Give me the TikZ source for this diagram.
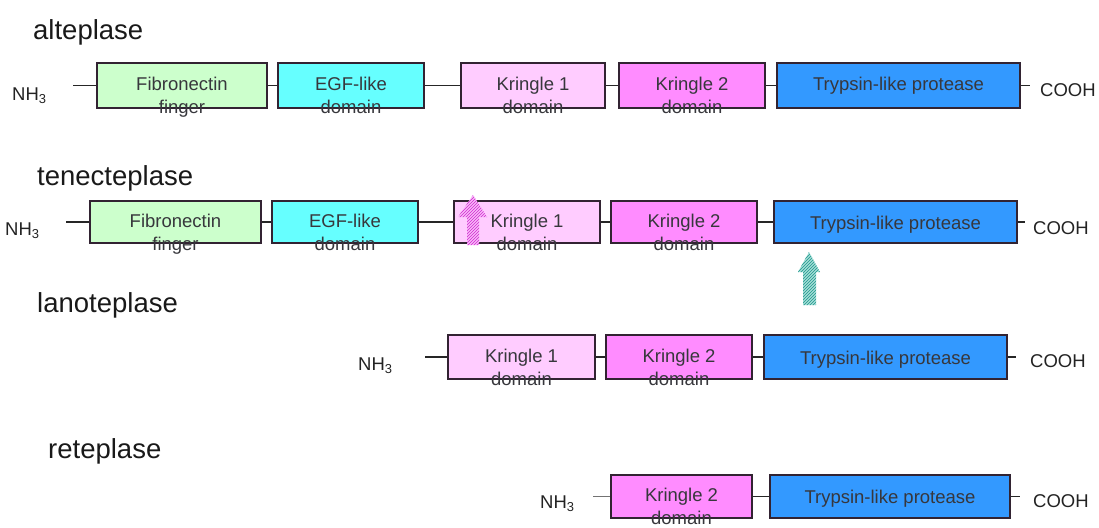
\documentclass[tikz,border=0pt]{standalone}
\usepackage{fontspec}
\setmainfont{Liberation Sans}
\usetikzlibrary{patterns}
\definecolor{fingergreen}{RGB}{204, 255, 204}
\definecolor{egfcyan}{RGB}{102, 255, 255}
\definecolor{kringlepale}{RGB}{255, 204, 255}
\definecolor{kringlepink}{RGB}{255, 140, 255}
\definecolor{proteaseblue}{RGB}{51, 153, 255}
\definecolor{boxline}{RGB}{50, 35, 50}
\definecolor{domgray}{RGB}{55, 55, 60}
\definecolor{endgray}{RGB}{35, 35, 35}
\definecolor{mutpink}{RGB}{210, 40, 210}
\definecolor{mutpinkbg}{RGB}{248, 185, 248}
\definecolor{mutteal}{RGB}{30, 150, 140}
\definecolor{mutteabg}{RGB}{165, 222, 215}

\begin{document}
\begin{tikzpicture}[x=1pt, y=-1pt,
    dombox/.style={draw=boxline, line width=1.6pt, minimum height=#1, inner sep=0pt},
    domtext/.style={anchor=base, align=center, inner sep=0pt, text=domgray,
                    font=\fontsize{18.5}{23}\selectfont},
    title/.style={anchor=base west, inner sep=0pt, text=black!90,
                  font=\fontsize{27.5}{30}\selectfont},
    endtext/.style={anchor=base west, inner sep=0pt, text=endgray,
                    font=\fontsize{18.5}{22}\selectfont},
    link/.style={line width=1.4pt, draw=black!85}]
\useasboundingbox (0,0) rectangle (1099,527);

% alteplase
\node[title] (tal) at (33,40) {alteplase};
\node[endtext] (nal) at (12,100) {NH\textsubscript{3}};
\node[endtext] (cal) at (1040,96) {COOH};
\coordinate (sal) at (73,85.5);
\coordinate (eal) at (1030,85.5);
\node[dombox=45pt, fill=fingergreen,  minimum width=170pt] (fn1)  at (182,85.5)   {};
\node[dombox=45pt, fill=egfcyan,      minimum width=146pt] (egf1) at (351,85.5)   {};
\node[dombox=45pt, fill=kringlepale,  minimum width=144pt] (ka1)  at (533,85.5)   {};
\node[dombox=45pt, fill=kringlepink,  minimum width=146pt] (kb1)  at (692,85.5)   {};
\node[dombox=45pt, fill=proteaseblue, minimum width=243pt] (tp1)  at (898.5,85.5) {};
\node[domtext] (fn1t)  at ([yshift=-28pt]fn1.center)  {Fibronectin\\finger};
\node[domtext] (egf1t) at ([yshift=-28pt]egf1.center) {EGF-like\\domain};
\node[domtext] (ka1t)  at ([yshift=-28pt]ka1.center)  {Kringle 1\\domain};
\node[domtext] (kb1t)  at ([yshift=-28pt]kb1.center)  {Kringle 2\\domain};
\node[domtext] (tp1t)  at ([yshift=-5pt]tp1.center)   {Trypsin-like protease};
\draw[link] (sal) -- (fn1) -- (egf1) -- (ka1) -- (kb1) -- (tp1) -- (eal);

% tenecteplase
\node[title] (tte) at (37,185) {tenecteplase};
\node[endtext] (nte) at (5,235) {NH\textsubscript{3}};
\node[endtext] (cte) at (1033,234) {COOH};
\coordinate (ste) at (66,222);
\coordinate (ete) at (1025,222);
\node[dombox=42pt, fill=fingergreen,  minimum width=171pt] (fn2)  at (175.5,222) {};
\node[dombox=42pt, fill=egfcyan,      minimum width=146pt] (egf2) at (345,222)   {};
\node[dombox=42pt, fill=kringlepale,  minimum width=146pt] (ka2)  at (527,222)   {};
\node[dombox=42pt, fill=kringlepink,  minimum width=146pt] (kb2)  at (684,222)   {};
\node[dombox=42pt, fill=proteaseblue, minimum width=243pt] (tp2)  at (895.5,222) {};
\node[domtext] (fn2t)  at ([yshift=-28pt]fn2.center)  {Fibronectin\\finger};
\node[domtext] (egf2t) at ([yshift=-28pt]egf2.center) {EGF-like\\domain};
\node[domtext] (ka2t)  at ([yshift=-28pt]ka2.center)  {Kringle 1\\domain};
\node[domtext] (kb2t)  at ([yshift=-28pt]kb2.center)  {Kringle 2\\domain};
\node[domtext] (tp2t)  at ([yshift=-7pt]tp2.center)   {Trypsin-like protease};
\draw[link] (ste) -- (fn2) -- (egf2) -- (ka2) -- (kb2) -- (tp2) -- (ete);
% mutation sites
\fill[preaction={fill=mutpinkbg}, pattern=north east lines, pattern color=mutpink]
     (473,195) -- (487,217) -- (479,217) -- (479,245) -- (467,245) -- (467,217) -- (458,217) -- cycle;
\fill[preaction={fill=mutteabg}, pattern=north east lines, pattern color=mutteal]
     (809,252) -- (820,272) -- (816,272) -- (816,305) -- (803,305) -- (803,272) -- (798,272) -- cycle;

% lanoteplase
\node[title] (tla) at (37,312) {lanoteplase};
\node[endtext] (nla) at (358,370) {NH\textsubscript{3}};
\node[endtext] (cla) at (1030,367) {COOH};
\coordinate (sla) at (425,357);
\coordinate (ela) at (1016,357);
\node[dombox=44pt, fill=kringlepale,  minimum width=147pt] (ka3)  at (521.5,357) {};
\node[dombox=44pt, fill=kringlepink,  minimum width=146pt] (kb3)  at (679,357)   {};
\node[dombox=44pt, fill=proteaseblue, minimum width=243pt] (tp3)  at (885.5,357) {};
\node[domtext] (ka3t)  at ([yshift=-28pt]ka3.center)  {Kringle 1\\domain};
\node[domtext] (kb3t)  at ([yshift=-28pt]kb3.center)  {Kringle 2\\domain};
\node[domtext] (tp3t)  at ([yshift=-7pt]tp3.center)   {Trypsin-like protease};
\draw[link] (sla) -- (ka3) -- (kb3) -- (tp3) -- (ela);

% reteplase
\node[title] (tre) at (48,458) {reteplase};
\node[endtext] (nre) at (540,508) {NH\textsubscript{3}};
\node[endtext] (cre) at (1033,507) {COOH};
\coordinate (sre) at (593,496.5);
\coordinate (ere) at (1020,496.5);
\node[dombox=43pt, fill=kringlepink,  minimum width=141pt] (kb4)  at (681.5,496.5) {};
\node[dombox=43pt, fill=proteaseblue, minimum width=240pt] (tp4)  at (890,496.5)   {};
\node[domtext] (kb4t)  at ([yshift=-28pt]kb4.center)  {Kringle 2\\domain};
\node[domtext] (tp4t)  at ([yshift=-7pt]tp4.center)   {Trypsin-like protease};
\draw[link, draw=black!55] (sre) -- (kb4);
\draw[link] (kb4) -- (tp4) -- (ere);
\end{tikzpicture}
\end{document}
